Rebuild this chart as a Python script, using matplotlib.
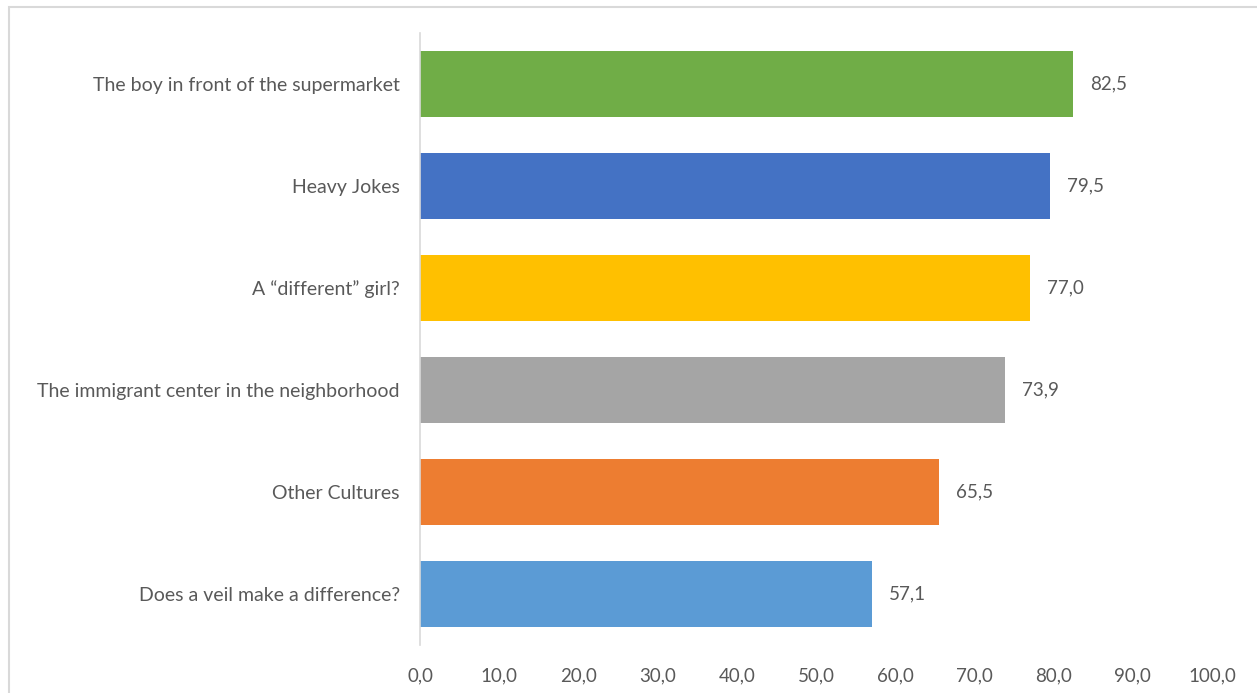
import matplotlib
matplotlib.use("Agg")
import matplotlib.pyplot as plt
from matplotlib.patches import Rectangle

categories = [
    "The boy in front of the supermarket",
    "Heavy Jokes",
    "A \u201cdifferent\u201d girl?",
    "The immigrant center in the neighborhood",
    "Other Cultures",
    "Does a veil make a difference?",
]
values = [82.5, 79.5, 77.0, 73.9, 65.5, 57.1]
colors = ["#70AD47", "#4472C4", "#FFC000", "#A5A5A5", "#ED7D31", "#5B9BD5"]
xticks = [0, 10, 20, 30, 40, 50, 60, 70, 80, 90, 100]

W, H = 1257, 693
plt.rcParams["font.family"] = ["Lato", "DejaVu Sans"]
text_color = "#595959"

fig = plt.figure(figsize=(W / 100, H / 100), dpi=100)
# light frame around the chart area
fig.patches.append(Rectangle((9 / W, -0.1), 1.2, 1 - 7 / H + 0.1,
                             transform=fig.transFigure, fill=False,
                             edgecolor="#D9D9D9", linewidth=1.5))

ax = fig.add_axes([420 / W, 1 - 645 / H, 792 / W, 612 / H])
ypos = list(range(len(categories)))
ax.barh(ypos, values, height=0.64, color=colors)
ax.set_ylim(len(categories) - 0.5, -0.5)
ax.set_xlim(0, 100)

for y, v in zip(ypos, values):
    ax.annotate(f"{v:.1f}".replace(".", ","), (v, y), xytext=(17, 0),
                textcoords="offset pixels",
                va="center", ha="left", fontsize=13.5, color=text_color)

ax.set_yticks(ypos)
ax.set_yticklabels(categories, fontsize=14, color=text_color)
ax.set_xticks(xticks)
ax.set_xticklabels([f"{t:.1f}".replace(".", ",") for t in xticks],
                   fontsize=13.5, color=text_color)
ax.tick_params(axis="both", length=0)
ax.tick_params(axis="y", pad=14.5)
ax.tick_params(axis="x", pad=16)

for s in ["top", "right", "bottom"]:
    ax.spines[s].set_visible(False)
ax.spines["left"].set_color("#D9D9D9")
ax.spines["left"].set_linewidth(1.2)

fig.savefig("out.png", dpi=100)
